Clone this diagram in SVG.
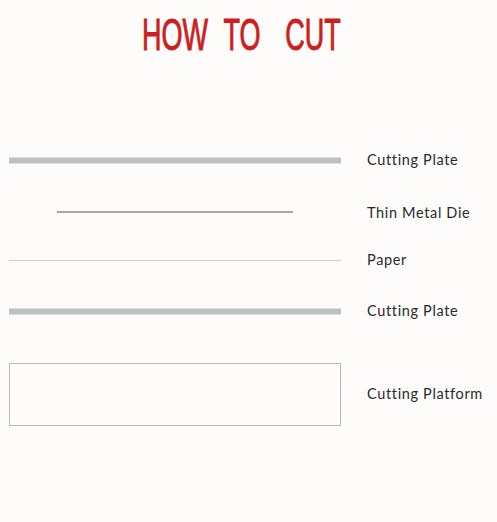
<svg xmlns="http://www.w3.org/2000/svg" width="497" height="522" viewBox="0 0 497 522">
<style>
.label{font-family:Lato,"Open Sans","Liberation Sans",sans-serif;font-size:14.5px;fill:#2a2a2a;letter-spacing:0.65px}
.plate{fill:#bcbfc3}
.title{font-family:"Liberation Sans",Arial,sans-serif;font-size:45px;fill:#cc2020;stroke:#cc2020;stroke-width:1}
</style>
<rect width="497" height="522" fill="#fdfcfa"/>
<g id="title">
<text class="title" y="50" transform="scale(0.6,1)"><tspan x="236.7">HOW</tspan><tspan x="372.5">TO</tspan><tspan x="475.5">CUT</tspan></text>
</g>
<g id="cutting-plate-top">
<rect class="plate" x="9" y="157.5" width="332" height="6"/>
<text class="label" x="367" y="164.5">Cutting Plate</text>
</g>
<g id="thin-metal-die">
<line x1="57" y1="212" x2="293" y2="212" stroke="#555" stroke-width="1"/>
<text class="label" x="367" y="218">Thin Metal Die</text>
</g>
<g id="paper">
<line x1="9" y1="260.5" x2="341" y2="260.5" stroke="#d0d0d0" stroke-width="1"/>
<text class="label" x="367" y="264.5">Paper</text>
</g>
<g id="cutting-plate-bottom">
<rect class="plate" x="9" y="308.5" width="332" height="6"/>
<text class="label" x="367" y="316">Cutting Plate</text>
</g>
<g id="cutting-platform">
<rect x="9.5" y="363.5" width="331" height="62" fill="none" stroke="#b8b8b8" stroke-width="1"/>
<text class="label" x="367" y="399">Cutting Platform</text>
</g>
</svg>
